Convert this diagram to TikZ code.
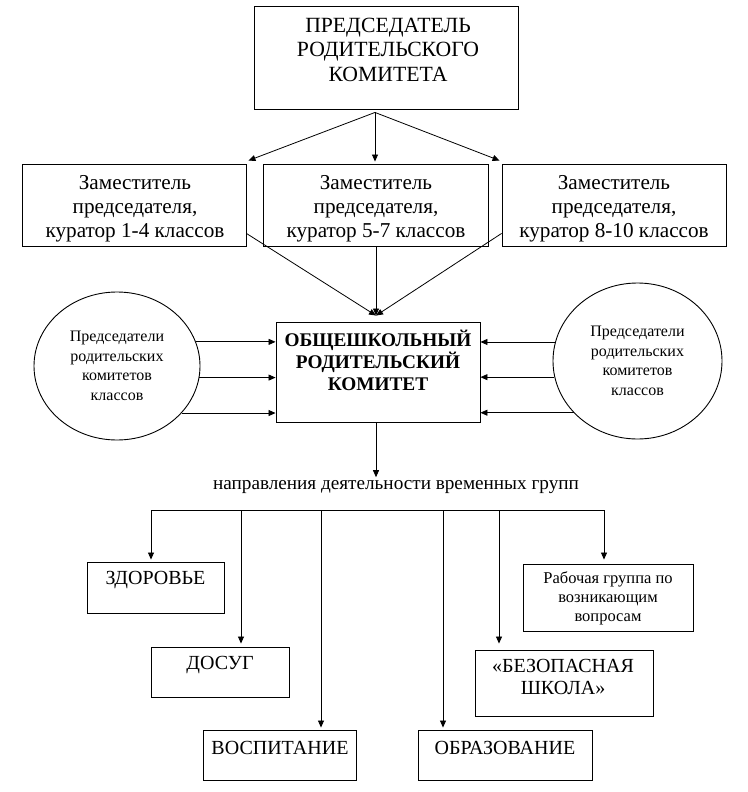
\documentclass[tikz,border=0pt]{standalone}
\usepackage{fontspec}
\setmainfont{Liberation Serif}
\usetikzlibrary{arrows.meta,shapes.geometric,calc}
\begin{document}
\begin{tikzpicture}[x=1pt,y=-1pt,
  box/.style={draw, line width=0.9pt, inner sep=0pt},
  oval/.style={draw, ellipse, line width=0.9pt, inner sep=0pt, align=center, font=\fontsize{16}{19.5}\selectfont},
  ln/.style={line width=0.8pt},
  arr/.style={-{Triangle[length=7pt,width=6pt]}, line width=0.8pt},
  ftop/.style={font=\fontsize{21.7}{24.5}\selectfont, align=center},
  fdep/.style={font=\fontsize{21.2}{24}\selectfont, align=center},
  fbold/.style={font=\fontsize{19.3}{22}\selectfont\bfseries, align=center},
  fbot/.style={font=\fontsize{20}{22}\selectfont, align=center},
  fsmall/.style={font=\fontsize{16.5}{19}\selectfont, align=center}]
\useasboundingbox (0,0) rectangle (747,792);

% top
\node[box, minimum width=264, minimum height=103] (top) at (386,57.5) {};
\node[ftop] (topt) at (388,49.5) {ПРЕДСЕДАТЕЛЬ\\РОДИТЕЛЬСКОГО\\КОМИТЕТА};

% deputies
\node[box, minimum width=224, minimum height=82] (dl) at (134,205) {};
\node[box, minimum width=225, minimum height=82] (dm) at (376,205) {};
\node[box, minimum width=224, minimum height=82] (dr) at (614,205) {};
\node[fdep] (dlt) at (135,208.5) {Заместитель\\председателя,\\куратор 1-4 классов};
\node[fdep] (dmt) at (376,208.5) {Заместитель\\председателя,\\куратор 5-7 классов};
\node[fdep] (drt) at (614,208.5) {Заместитель\\председателя,\\куратор 8-10 классов};

\coordinate (apex) at ($(top.south)+(-11,3)$);
\draw[arr] (apex) -- ($(dl.north east)+(2,-3)$);
\draw[arr, shorten >=2pt] (apex) -- (apex |- dm.north);
\draw[arr] (apex) -- ($(dr.north west)+(-2,-3)$);

% central
\node[box, minimum width=204, minimum height=100] (cb) at (378,372) {};
\node[fbold] (cbt) at (378,360) {ОБЩЕШКОЛЬНЫЙ\\РОДИТЕЛЬСКИЙ\\КОМИТЕТ};

\coordinate (conv) at ($(cb.north)+(-2,-6)$);
\draw[arr] ($(dl.south east)+(0,-13)$) -- (conv);
\draw[arr] (dm.south) -- (conv);
\draw[arr] ($(dr.south west)+(0,-13)$) -- (conv);

% ellipses
\node[oval, minimum width=166, minimum height=148] (el) at (117,366) {Председатели\\родительских\\комитетов\\классов};
\node[oval, minimum width=169, minimum height=156] (er) at (637.5,361) {Председатели\\родительских\\комитетов\\классов};

\draw[arr] (el.17) -- (el.17 -| cb.west);
\draw[arr] (el.-8.3) -- (el.-8.3 -| cb.west);
\draw[arr] (el.-36.2) -- (el.-36.2 -| cb.west);
\draw[arr] (er.167) -- (er.167 -| cb.east);
\draw[arr] (er.191.6) -- (er.191.6 -| cb.east);
\draw[arr] (er.219.5) -- (er.219.5 -| cb.east);

% directions
\node[font=\fontsize{19.2}{21}\selectfont, inner sep=0pt] (nap) at (396,487) {направления деятельности временных групп};
\draw[arr, shorten >=3pt] (cb.south -| conv) -- (conv |- nap.north);

\coordinate (b1) at (151,510);
\coordinate (b2) at (241,510);
\coordinate (b3) at (321,510);
\coordinate (b4) at (443,510);
\coordinate (b5) at (499,510);
\coordinate (b6) at (604,510);
\draw[ln] (b1) -- (b6);

% bottom boxes
\node[box, minimum width=137, minimum height=51] (zd) at (155.5,587.5) {};
\node[box, minimum width=138, minimum height=50] (dos) at (220,672) {};
\node[box, minimum width=153, minimum height=50] (vos) at (279.5,755) {};
\node[box, minimum width=174, minimum height=50] (obr) at (505,755) {};
\node[box, minimum width=178, minimum height=66] (bez) at (564,683) {};
\node[box, minimum width=170, minimum height=67] (rab) at (608,597.5) {};

\node[fbot] (zdt) at (155.5,580) {ЗДОРОВЬЕ};
\node[fbot] (dost) at (220,665) {ДОСУГ};
\node[fbot] (vost) at (280,748) {ВОСПИТАНИЕ};
\node[fbot] (obrt) at (505,748) {ОБРАЗОВАНИЕ};
\node[fbot] (bezt) at (563,677) {«БЕЗОПАСНАЯ\\ШКОЛА»};
\node[fsmall] (rabt) at (608,598) {Рабочая группа по\\возникающим\\вопросам};

\draw[arr, shorten >=2pt] (b1) -- (b1 |- zd.north);
\draw[arr, shorten >=3pt] (b2) -- (b2 |- dos.north);
\draw[arr, shorten >=2pt] (b3) -- (b3 |- vos.north);
\draw[arr, shorten >=2pt] (b4) -- (b4 |- obr.north);
\draw[arr, shorten >=6pt] (b5) -- (b5 |- bez.north);
\draw[arr, shorten >=4pt] (b6) -- (b6 |- rab.north);
\end{tikzpicture}
\end{document}
